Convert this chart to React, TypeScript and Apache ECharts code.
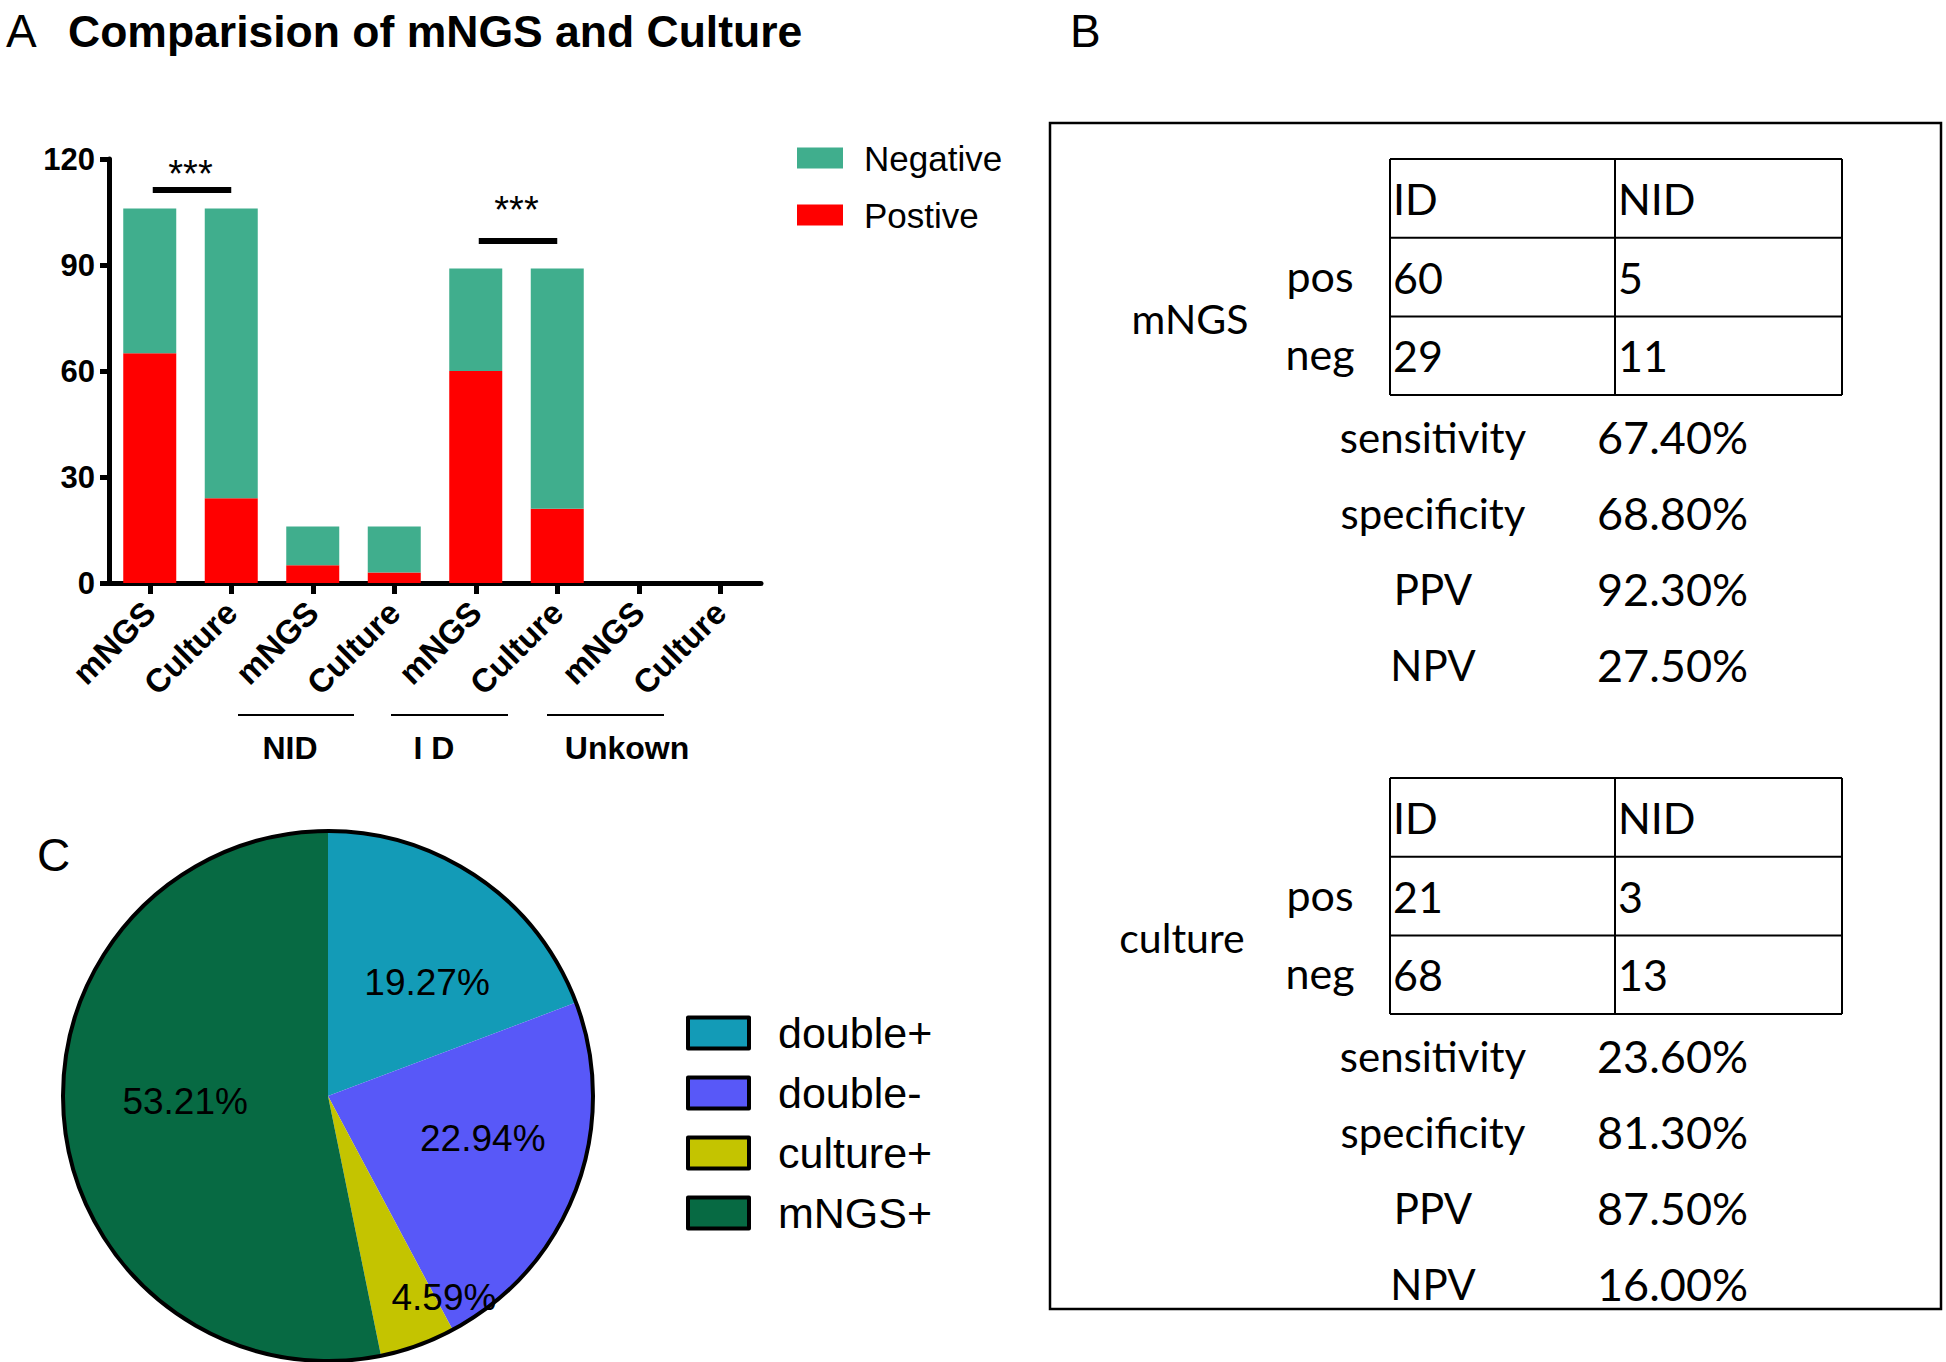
import React, { useEffect, useRef } from 'react';
import * as echarts from 'echarts';

// ---- Panel A data ----
const categories = ['mNGS', 'Culture', 'mNGS', 'Culture', 'mNGS', 'Culture', 'mNGS', 'Culture'];
const positive = [65, 24, 5, 3, 60, 21, 0, 0];
const negative = [41, 82, 11, 13, 29, 68, 0, 0];
const yMax = 120;
const yInterval = 30;
const groupLabels = ['NID', 'I D', 'Unkown'];
// significance bars: [fromIndex, toIndex, lineValue, starValue]
const sigBars = [
  [0, 1, 111.2, 115.8],
  [4, 5, 96.8, 105.5],
];
const sigText = '***';

// ---- Panel B data ----
const colHeaders = ['ID', 'NID'];
const rowHeaders = ['pos', 'neg'];
const mngsCells = [['60', '5'], ['29', '11']];
const cultureCells = [['21', '3'], ['68', '13']];
const statLabels = ['sensitivity', 'specificity', 'PPV', 'NPV'];
const mngsStats = ['67.40%', '68.80%', '92.30%', '27.50%'];
const cultureStats = ['23.60%', '81.30%', '87.50%', '16.00%'];

// ---- Panel C data ----
const pieNames = ['double+', 'double-', 'culture+', 'mNGS+'];
const pieValues = [19.27, 22.94, 4.59, 53.21];
const pieColors = ['#139BB7', '#5858F8', '#C4C400', '#076A43'];
const pieLabelOffsets = [[22, -2], [28, -5], [70, 74], [-8, -8]];

const SANS = 'Liberation Sans, Arial, sans-serif';
const TBL = 'Lato, Open Sans, sans-serif';

function tableElements(top: number, title: string, titleX: number, cells: string[][], stats: string[]) {
  const left = 1390, right = 1842, mid = 1615;
  const rowH = 78.7;
  const rows = [top, top + rowH, top + 2 * rowH, top + 3 * rowH];
  const bottom = rows[3];
  const els: any[] = [];
  const lw = 2;
  rows.forEach((y) => els.push({ type: 'line', shape: { x1: left, y1: y, x2: right, y2: y }, style: { stroke: '#000', lineWidth: lw } }));
  [left, mid, right].forEach((x) => els.push({ type: 'line', shape: { x1: x, y1: top, x2: x, y2: bottom }, style: { stroke: '#000', lineWidth: lw } }));
  const txt = (text: string, x: number, y: number, align = 'left', fs = 43) => ({
    type: 'text', x, y,
    style: { text, fontSize: fs, fontFamily: TBL, fill: '#000', align, verticalAlign: 'middle' },
  });
  const rc = (i: number) => (rows[i] + rows[i + 1]) / 2;
  els.push(txt(colHeaders[0], left + 3, rc(0)));
  els.push(txt(colHeaders[1], mid + 3, rc(0)));
  for (let r = 0; r < 2; r++) {
    els.push(txt(rowHeaders[r], 1320, rc(r + 1) - 2, 'center'));
    els.push(txt(cells[r][0], left + 3, rc(r + 1)));
    els.push(txt(cells[r][1], mid + 3, rc(r + 1)));
  }
  els.push(txt(title, titleX, (rc(1) + rc(2)) / 2 + 2, 'center', 41));
  for (let i = 0; i < statLabels.length; i++) {
    const y = bottom + 42 + i * 76;
    els.push(txt(statLabels[i], 1433, y, 'center', 42));
    els.push(txt(stats[i], 1597, y, 'left', 45));
  }
  return els;
}

export default function App() {
  const ref = useRef<HTMLDivElement>(null);
  useEffect(() => {
    document.body.style.margin = '0';
    const chart = echarts.init(ref.current!, null, { renderer: 'svg' });
    const pieCenter = [328, 1096];
    const pieR = 265;

    const groupLines = [
      [238, 354, 290],
      [391, 508, 434],
      [547, 664, 627],
    ];

    const graphics: any[] = [
      { type: 'text', x: 6, y: 31, style: { text: 'A', fontSize: 46, fontFamily: SANS, fill: '#000', verticalAlign: 'middle' } },
      { type: 'text', x: 68, y: 31, style: { text: 'Comparision of mNGS and Culture', fontSize: 44.5, fontWeight: 'bold', fontFamily: SANS, fill: '#000', verticalAlign: 'middle' } },
      { type: 'text', x: 1070, y: 31, style: { text: 'B', fontSize: 46, fontFamily: SANS, fill: '#000', verticalAlign: 'middle' } },
      { type: 'text', x: 37, y: 855, style: { text: 'C', fontSize: 46, fontFamily: SANS, fill: '#000', verticalAlign: 'middle' } },
      { type: 'rect', shape: { x: 1050, y: 123, width: 891, height: 1186 }, style: { fill: 'none', stroke: '#000', lineWidth: 2.5 } },
      { type: 'circle', shape: { cx: pieCenter[0], cy: pieCenter[1], r: pieR }, style: { fill: 'none', stroke: '#000', lineWidth: 4 }, z: 50 },
    ];
    groupLines.forEach((g, i) => {
      graphics.push({ type: 'line', shape: { x1: g[0], y1: 715, x2: g[1], y2: 715 }, style: { stroke: '#000', lineWidth: 2 } });
      graphics.push({ type: 'text', x: g[2], y: 748, style: { text: groupLabels[i], fontSize: 32, fontWeight: 'bold', fontFamily: SANS, fill: '#000', align: 'center', verticalAlign: 'middle' } });
    });
    graphics.push(...tableElements(159, 'mNGS', 1190, mngsCells, mngsStats));
    graphics.push(...tableElements(778, 'culture', 1182, cultureCells, cultureStats));

    const option: any = {
      animation: false,
      backgroundColor: '#fff',
      grid: { left: 109, top: 159, width: 652, height: 424, containLabel: false },
      xAxis: {
        type: 'category',
        data: categories,
        axisLine: { lineStyle: { color: '#000', width: 5 } },
        axisTick: { show: true, alignWithLabel: true, length: 11, lineStyle: { color: '#000', width: 5 } },
        axisLabel: { rotate: 45, interval: 0, fontSize: 33, fontWeight: 'bold', color: '#000', fontFamily: SANS, margin: 24 },
      },
      yAxis: {
        type: 'value',
        min: 0,
        max: yMax,
        interval: yInterval,
        axisLine: { show: true, lineStyle: { color: '#000', width: 5 } },
        axisTick: { show: true, length: 9, lineStyle: { color: '#000', width: 5 } },
        splitLine: { show: false },
        axisLabel: { fontSize: 31, fontWeight: 'bold', color: '#000', fontFamily: SANS, margin: 14 },
      },
      legend: [
        {
          data: ['Negative', 'Postive'],
          orient: 'vertical',
          left: 792,
          top: 135,
          icon: 'rect',
          itemWidth: 46,
          itemHeight: 21,
          itemGap: 21,
          itemStyle: { borderWidth: 0 },
          textStyle: { fontSize: 35, lineHeight: 36, color: '#000', fontFamily: SANS, padding: [0, 0, 0, 16] },
        },
        {
          data: pieNames,
          orient: 'vertical',
          left: 681,
          top: 1006,
          icon: 'rect',
          itemWidth: 61,
          itemHeight: 31,
          itemGap: 16,
          itemStyle: { borderColor: '#000', borderWidth: 4 },
          textStyle: { fontSize: 43, lineHeight: 44, color: '#000', fontFamily: SANS, padding: [0, 0, 0, 24] },
        },
      ],
      series: [
        { name: 'Postive', type: 'bar', stack: 's', barWidth: 53, data: positive, itemStyle: { color: '#FF0000' } },
        { name: 'Negative', type: 'bar', stack: 's', barWidth: 53, data: negative, itemStyle: { color: '#40AE8D' } },
        {
          type: 'custom',
          silent: true,
          encode: { x: [0, 1], y: [2, 3] },
          data: sigBars,
          renderItem: (params: any, api: any) => {
            const a = api.coord([api.value(0), api.value(2)]);
            const b = api.coord([api.value(1), api.value(2)]);
            const t = api.coord([api.value(0), api.value(3)]);
            return {
              type: 'group',
              children: [
                { type: 'line', shape: { x1: a[0] + 3, y1: a[1], x2: b[0], y2: b[1] }, style: { stroke: '#000', lineWidth: 6 } },
                { type: 'text', x: (a[0] + b[0]) / 2, y: t[1], style: { text: sigText, fontSize: 38, fill: '#000', fontFamily: SANS, align: 'center', verticalAlign: 'middle' } },
              ],
            };
          },
        },
        {
          type: 'pie',
          center: pieCenter,
          radius: pieR,
          startAngle: 90,
          clockwise: true,
          labelLine: { show: false },
          itemStyle: { borderWidth: 0 },
          label: {
            position: 'inside',
            fontSize: 37,
            color: '#000',
            fontFamily: SANS,
            formatter: (p: any) => p.value.toFixed(2) + '%',
          },
          emphasis: { disabled: true },
          data: pieNames.map((n, i) => ({
            name: n,
            value: pieValues[i],
            itemStyle: { color: pieColors[i] },
            label: { offset: pieLabelOffsets[i] },
          })),
        },
      ],
      graphic: graphics,
    };
    chart.setOption(option);
    return () => chart.dispose();
  }, []);
  return <div ref={ref} style={{ width: 1946, height: 1362, background: '#fff' }} />;
}
